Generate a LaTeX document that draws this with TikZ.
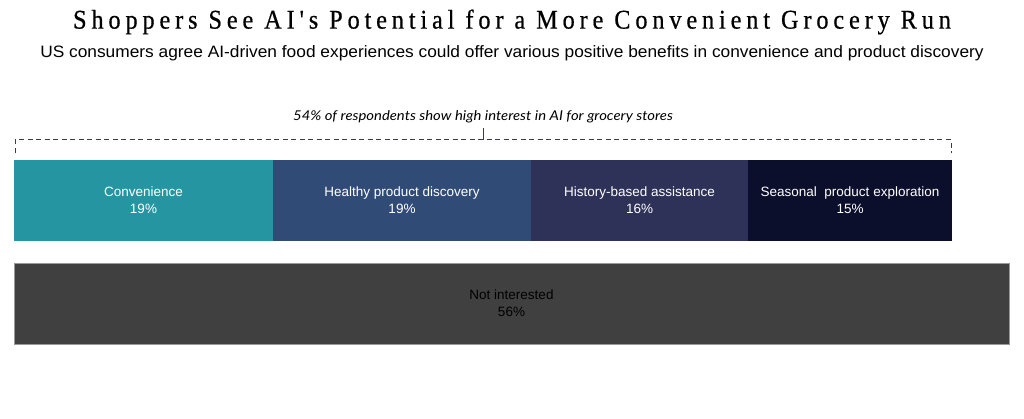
\documentclass[tikz,border=0pt]{standalone}
\usepackage{fontspec}
\setmainfont{Liberation Sans}
\newfontfamily\titlefont[LetterSpace=18,FakeStretch=0.9,FakeBold=0.6]{Liberation Serif}
\newfontfamily\notefont[FakeStretch=1.1]{Lato}
\newfontfamily\subfont[FakeStretch=1.05]{Liberation Sans}
\usetikzlibrary{positioning}

\definecolor{convcol}{HTML}{2495A1}
\definecolor{healthcol}{HTML}{314B77}
\definecolor{histcol}{HTML}{2E3259}
\definecolor{seascol}{HTML}{0C0F2B}
\definecolor{notcol}{HTML}{404040}
\definecolor{dashcol}{HTML}{3A3A4A}

\tikzset{
  seg/.style={inner sep=0pt, outer sep=0pt, minimum height=81pt, align=center,
    text=white, font=\fontsize{13.5}{17}\selectfont},
  bracket/.style={draw=dashcol, line width=1pt, dash pattern=on 5pt off 3.5pt}
}

\begin{document}
\begin{tikzpicture}[x=1pt, y=-1pt]
		\useasboundingbox (0,0) rectangle (1024,419);
		% title and subtitle
		\node (title) at (512,22) {\titlefont\fontsize{27}{30}\selectfont Shoppers See AI's Potential for a More Convenient Grocery Run};
		\node (subtitle) at (512,53) {\subfont\fontsize{16.5}{19}\selectfont US consumers agree AI-driven food experiences could offer various positive benefits in convenience and product discovery};
		% interested bar
		\node[seg, fill=convcol, minimum width=259pt, anchor=north west] (conv) at (14,160) {Convenience\\19\%};
		\node[seg, fill=healthcol, minimum width=258pt, right=0pt of conv] (health) {Healthy product discovery\\19\%};
		\node[seg, fill=histcol, minimum width=217pt, right=0pt of health] (hist) {History-based assistance\\16\%};
		\node[seg, fill=seascol, minimum width=204pt, right=0pt of hist] (seas) {Seasonal\ \ product exploration\\15\%};
		% not interested bar
		\node[seg, fill=notcol, draw=gray!80, line width=0.6pt, text=black, minimum width=995pt, anchor=north west] (notint) at (14,263) {Not interested\\56\%};
		% bracket
		\node[font=\notefont\itshape\fontsize{13.5}{15}\selectfont, inner sep=0pt] (note) at (483,117) {54\% of respondents show high interest in AI for grocery stores};
		\coordinate (bl) at (15,153);
		\coordinate (tl) at (15,140);
		\coordinate (tr) at (951,140);
		\coordinate (br) at (951,153);
		\draw[bracket] (bl) -- (tl) -- (tr) -- (br);
		\draw[bracket, solid] ([yshift=-5pt]note.south) -- (note.south |- tl);
	\end{tikzpicture}
\end{document}
